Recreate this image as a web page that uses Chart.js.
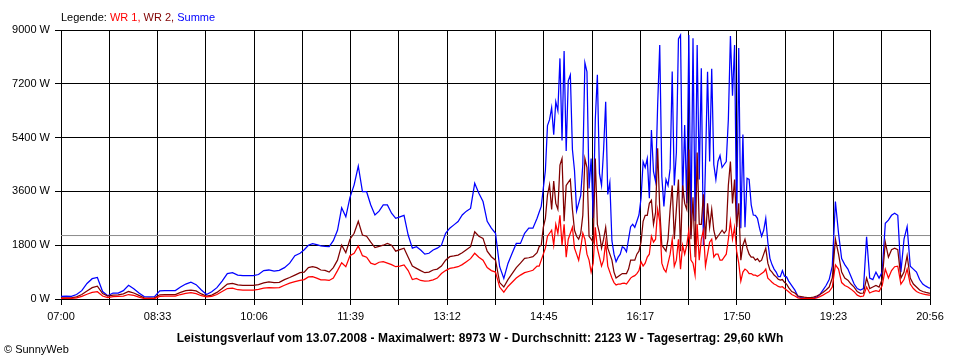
<!DOCTYPE html>
<html>
<head>
<meta charset="utf-8">
<script src="https://cdn.jsdelivr.net/npm/chart.js@4.4.1/dist/chart.umd.min.js"></script>
<style>
  html, body { margin:0; padding:0; background:#fff; }
  #wrap { position:relative; width:960px; height:360px; overflow:hidden; font-family:"Liberation Sans", Arial, sans-serif; }
  canvas { position:absolute; left:0; top:0; }
  .txt { position:absolute; white-space:nowrap; font-size:11px; line-height:13px; color:#000; }
  #legend { left:61px; top:11px; }
  #title { left:0; width:960px; text-align:center; top:331px; font-weight:bold; font-size:12px; line-height:14px; letter-spacing:0.1px; }
  #copy { left:4px; top:343px; }
</style>
</head>
<body>
<div id="wrap">
  <canvas id="c" width="960" height="360"></canvas>
  <div class="txt" id="legend">Legende: <span style="color:#ff0000">WR 1,</span> <span style="color:#800000">WR 2,</span> <span style="color:#0000ff">Summe</span></div>
  <div class="txt" id="title">Leistungsverlauf vom 13.07.2008 - Maximalwert: 8973 W - Durchschnitt: 2123 W - Tagesertrag: 29,60 kWh</div>
  <div class="txt" id="copy">© SunnyWeb</div>
</div>
<script>
// minutes after 07:00
const minutes = [
0,5,10,15,20,25,30,35,40,45,50,55,60,65,70,75,80,85,90,95,100,105,110,115,120,125,130,135,140,145,150,155,160,165,170,175,180,185,190,195,200,205,210,215,220,225,230,
234,238,242,246,250,254,258,262,266,270,274,278,282,286,290,294,298,302,306,310,314,318,322,326,330,334,338,342,346,350,354,358,362,366,370,374,378,382,386,390,394,398,402,406,410,414,418,422,426,430,434,438,442,446,450,454,458,
460,462,464,466,468,470,472,474,476,478,480,482,484,486,488,490,492,494,496,498,500,502,504,506,508,510,512,514,516,518,520,522,524,526,528,530,532,534,536,538,540,542,544,546,548,550,552,554,556,558,560,562,564,566,568,570,572,574,576,578,580,582,584,586,588,590,592,594,596,598,600,602,604,606,608,610,612,614,616,618,620,622,624,626,628,630,632,634,636,638,640,642,644,646,648,650,652,654,656,658,660,662,664,666,668,670,672,674,676,678,680,682,684,686,688,690,692,694,696,698,700,
703,706,709,712,715,718,721,724,727,730,733,736,739,742,745,748,751,754,757,760,763,766,769,772,775,778,781,784,787,790,793,796,799,802,805,808,811,814,817,820,823,826,829,832,835,836
];

const wr1 = [
25,25,25,40,90,160,220,245,100,50,80,90,100,150,120,60,15,10,15,90,100,100,100,150,190,210,180,110,70,90,150,250,350,360,310,300,300,300,320,360,380,370,380,460,530,580,620,
650,740,745,700,640,640,620,700,950,1215,1080,1450,1530,1775,1450,1400,1200,1150,1230,1250,1200,1150,1080,1100,1140,950,650,690,620,600,610,640,700,850,950,1025,1050,1080,1150,1250,1350,1530,1400,1300,1050,950,900,400,230,420,560,700,800,880,920,960,1100,
1100,1300,1500,1700,2100,2200,2300,1800,2500,2200,
2800,1800,2500,1400,2000,2200,2400,1700,1500,1300,
1700,2200,2000,1500,1300,900,1200,2400,1700,1400,
1100,1300,1900,1100,900,700,550,470,500,500,
520,530,500,600,700,750,780,850,950,1250,
1100,1200,1400,1500,2100,1900,2000,3000,2600,1200,
1000,900,1200,1500,2000,1100,1300,2000,1000,1800,
1500,1800,2300,1300,1200,800,2500,1300,2000,2300,
1100,1500,1900,2000,1400,1500,1500,1300,1300,1400,
1500,2000,2600,2000,2400,1600,1200,600,900,1000,
950,850,850,800,800,760,800,850,900,1000,
700,630,560,500,470,420,400,410,350,300,
240,
150,100,40,20,15,10,10,15,40,80,130,190,250,400,1140,1000,550,450,400,330,245,130,80,100,400,200,250,280,250,450,1000,700,950,1080,1100,500,650,1000,500,350,250,200,170,150,130,130
];

const wr2 = [
40,40,40,70,150,270,380,430,180,100,130,140,170,250,200,120,40,30,40,140,145,145,150,220,280,300,270,170,100,130,220,350,500,525,470,460,460,460,480,540,570,550,560,650,720,800,880,
900,1050,1080,1050,970,960,900,1050,1300,1800,1550,2000,2200,2600,2140,2100,1900,1720,1760,1800,1860,1800,1600,1650,1700,1400,1100,1025,950,880,900,970,1000,1100,1300,1415,1440,1470,1550,1650,1750,2250,2100,2030,1600,1415,1300,550,400,650,850,1050,1200,1360,1380,1415,1550,
1750,1800,2400,2700,3480,3820,3000,3950,3200,3000,
4480,4700,2600,3800,3900,4000,3000,2300,2100,2000,
2200,2800,4700,4400,2100,2000,1900,4700,2500,2200,
1700,2000,2400,1700,1500,1300,900,700,750,800,
850,850,850,1000,1300,1300,1300,1500,1600,1900,
2600,2800,2800,3200,3300,2500,2900,5040,3000,1800,
1700,1600,2000,3000,3800,2000,3000,4000,1600,3800,
3200,3000,5000,2000,3400,1400,4900,2500,2500,3500,
2000,3200,2400,3000,2300,2000,2100,2200,2300,2200,
2300,3800,4600,3200,4000,2400,3200,1300,1800,2000,
1700,1500,1400,1400,1300,1350,1250,1300,1500,1700,
1200,970,900,800,740,660,630,650,560,500,
380,
250,200,100,80,60,50,50,60,100,150,220,300,400,700,2000,1500,900,700,630,500,400,250,190,200,700,350,400,450,400,650,1900,1400,1650,1700,1650,700,900,1450,700,500,400,300,250,220,200,190
];

const summe = [
90,100,90,150,280,520,680,720,250,110,200,200,280,460,340,200,80,70,80,270,280,280,280,400,500,560,480,300,150,240,380,600,850,880,800,780,780,780,820,950,970,930,960,1050,1200,1450,1530,
1650,1800,1850,1820,1780,1760,1750,1950,2300,3050,2750,3400,3820,4450,3590,3590,3145,2810,2940,3145,3145,2870,2700,2750,2800,2140,1700,1750,1640,1500,1530,1640,1700,1800,2200,2370,2480,2590,2810,2940,3030,3870,3540,3260,2600,2370,2200,1080,690,1190,1530,1860,1860,2200,2370,2370,2700,
2900,3100,3700,4300,5800,6000,6400,5500,6600,6300,
8050,5300,8300,4950,7300,7500,5000,4300,2950,3200,
3470,4500,7900,7600,3700,4700,2700,6000,7500,4200,
3800,5000,6600,3500,3900,1950,1500,1250,1400,1500,
1750,1700,1580,2000,2420,2500,2400,2600,2810,3370,
4590,4400,4700,3370,5650,4260,3930,6500,8500,4100,
3100,4000,3800,4370,7610,3800,4900,8700,8830,3370,
5820,3200,8830,2140,8720,2600,8500,4000,7720,1800,
4500,7600,4600,7700,4500,4000,4600,4800,4400,4500,
4600,6000,8800,6800,8500,2400,8400,2370,5500,2400,
4040,4000,3150,2810,2800,2700,2370,2100,2300,2700,
1900,1360,1150,1000,900,750,750,950,760,740,
600,
450,300,80,50,30,20,20,30,60,150,300,450,650,1100,3260,2200,1350,1150,1000,750,500,350,300,350,2080,700,650,900,700,900,2530,2640,2800,2870,2800,900,2000,2420,1100,1000,900,650,500,430,370,360
];

const durchschnitt = 2123;
const tickLabels = ["07:00","08:33","10:06","11:39","13:12","14:45","16:17","17:50","19:23","20:56"];
const yTicks = [0,1800,3600,5400,7200,9000];
const totalMinutes = 836;
const gridCount = 18;

function pts(vals){ return vals.map((v,i)=>({x: minutes[i], y: v})); }

const font = {family:"'Liberation Sans', Arial, sans-serif", size:11};
const common = {borderWidth:1.25, pointRadius:0, tension:0, fill:false};

new Chart(document.getElementById('c'), {
  type:'line',
  data:{datasets:[
    Object.assign({label:'WR 1', data:pts(wr1), borderColor:'#ff0000'}, common),
    Object.assign({label:'WR 2', data:pts(wr2), borderColor:'#800000'}, common),
    Object.assign({label:'Summe', data:pts(summe), borderColor:'#0000ff'}, common),
    Object.assign({label:'Durchschnitt', data:[{x:0,y:durchschnitt},{x:totalMinutes,y:durchschnitt}], borderColor:'#8c8c8c'}, common, {borderWidth:1})
  ]},
  options:{
    responsive:false, animation:false, devicePixelRatio:1,
    layout:{padding:{top:30,right:30,left:0,bottom:0}},
    plugins:{legend:{display:false}, tooltip:{enabled:false}, title:{display:false}},
    scales:{
      x:{
        type:'linear', min:0, max:totalMinutes,
        afterBuildTicks:(s)=>{ const t=[]; for(let i=0;i<=gridCount;i++) t.push({value:i*totalMinutes/gridCount}); s.ticks=t; },
        afterFit:(s)=>{ s.height = 61; },
        ticks:{autoSkip:false, maxRotation:0, minRotation:0, color:'#000', font:font, padding:5,
          callback:(v,i)=> (i%2===0 ? tickLabels[i/2] : '')},
        grid:{color:'#000', lineWidth:1, tickLength:6, drawTicks:true},
        border:{color:'#000', width:1}
      },
      y:{
        type:'linear', min:0, max:9000,
        afterBuildTicks:(s)=>{ s.ticks = yTicks.map(v=>({value:v})); },
        afterFit:(s)=>{ s.width = 61; },
        ticks:{color:'#000', font:font, padding:5, callback:(v)=> v+' W'},
        grid:{color:'#000', lineWidth:1, tickLength:6, drawTicks:true},
        border:{color:'#000', width:1}
      }
    }
  }
});
</script>
</body>
</html>
